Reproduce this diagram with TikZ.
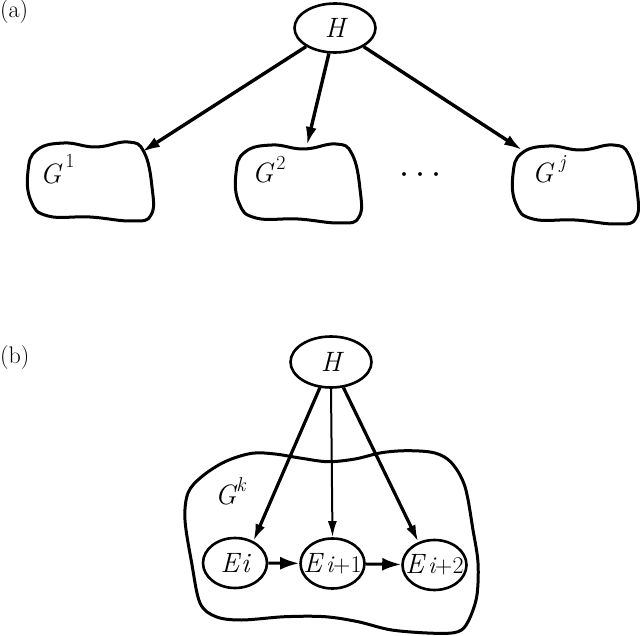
\RequirePackage{fix-cm}
\documentclass[tikz,border=0pt]{standalone}
\usetikzlibrary{arrows.meta,shapes.geometric}
\newcommand\mysup[2][14pt]{\raisebox{#1}{\fontsize{20}{22}\selectfont #2}}
\newcommand\mysub[1]{{\fontsize{24}{26}\selectfont #1}}
\newcommand\zbox[1]{\makebox[0pt]{#1}}
\begin{document}
\begin{tikzpicture}[x=1pt,y=-1pt,
  every node/.style={font=\fontsize{28}{32}\selectfont},
  lbl/.style={inner sep=0pt,anchor=base west},
  ell/.style={draw,ellipse,line width=2.6pt,inner sep=0pt,fill=white},
  hnode/.style={ell,minimum width=81pt,minimum height=49pt},
  enode/.style={ell,minimum width=64pt,minimum height=50pt},
  blobline/.style={line width=3pt,line join=round},
  arrA/.style={line width=3.4pt,-{Latex[length=18pt,width=11pt]}},
  arrB/.style={line width=3.2pt,-{Latex[length=17pt,width=10pt]}},
  arrBthin/.style={line width=2pt,-{Latex[length=16pt,width=9pt]}},
  arrH/.style={line width=3pt,-{Latex[length=19pt,width=13pt]}},
  panel/.style={font=\fontsize{24}{28}\selectfont,inner sep=0pt,anchor=west}
]
\useasboundingbox (0,0) rectangle (640,636);

% blob shape for (a)
\def\gblob{plot[smooth cycle,tension=0.75] coordinates {
 (13,11) (40,4) (72,8) (104,3) (120,13) (128,48) (127,76) (108,82)
 (66,78) (24,77) (7,62) (4,32)}}

% ---------- (a) ----------
\node[panel] (pa) at (0,12) {(a)};
\node[hnode] (Ha) at (335,28) {\zbox{\itshape H}};

\begin{scope}[shift={(24,139)}]
  \draw[blobline] \gblob;
\end{scope}
\begin{scope}[shift={(232,141)}]
  \draw[blobline] \gblob;
\end{scope}
\begin{scope}[shift={(509,142)}]
  \draw[blobline] \gblob;
\end{scope}

\node[lbl] (g1) at (40,184) {\itshape G\hspace{4pt}\mysup[16pt]{\upshape 1}};
\node[lbl] (g2) at (252,183) {\itshape G\hspace{3pt}\mysup[13pt]{\upshape 2}};
\node[lbl] (gj) at (532,183) {\itshape G\hspace{6pt}\mysup[14pt]{j}};
\node[font=\fontsize{36}{40}\selectfont] (dots) at (420.5,176) {$\cdots$};

\coordinate (g1tip) at (142,152);
\coordinate (g2tip) at (307,145);
\coordinate (gjtip) at (522,150);
\draw[arrA] (Ha) -- (g1tip);
\draw[arrA] (Ha) -- (g2tip);
\draw[arrA] (Ha) -- (gjtip);

% ---------- (b) ----------
\node[panel] (pb) at (0,358) {(b)};
\node[hnode,minimum height=51pt] (Hb) at (331,362) {\zbox{\itshape H}};

\draw[blobline] plot[smooth cycle,tension=0.55] coordinates {
 (251.7,453.3) (275,454) (301.7,458.3) (328,461.7) (355,459) (381.7,452.7)
 (408,450.7) (435,453) (451.7,463) (465,486.7) (473,530) (478,563)
 (476.7,596.7) (468,621.7) (458,631.7) (435,633.3) (391.7,630) (358,621.7)
 (325,616.7) (285,616.7) (241.7,620) (216,616.7) (200,603) (191.7,563)
 (185,520) (188,493) (201.7,476.7) (225,461.7)};

\node[lbl] (gk) at (215,504) {\itshape G\mysup[13pt]{k}};

\node[enode] (Ei) at (235,563) {\zbox{\itshape E\hspace{2pt}i}};
\node[enode] (Ei1) at (332.5,563.5) {\zbox{\itshape E\hspace{4pt}\mysub{i\upshape+1}}};
\node[enode] (Ei2) at (434.5,565) {\zbox{\itshape E\hspace{4pt}\mysub{i\upshape+2}}};

\draw[arrB] (Hb) -- (Ei.50);
\draw[arrBthin] (Hb.south) -- (Ei1.north);
\draw[arrB] (Hb) -- (Ei2.125);
\draw[arrH] (Ei) -- (Ei1);
\draw[arrH] (Ei1) -- (Ei2);
\end{tikzpicture}
\end{document}
